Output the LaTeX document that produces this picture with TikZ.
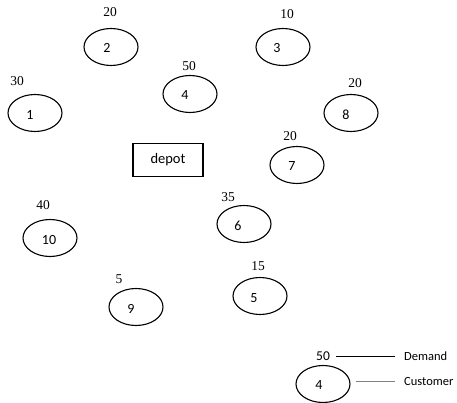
\documentclass[tikz,border=0pt]{standalone}
\usepackage{fontspec}
\setmainfont{Liberation Serif}
\newfontfamily\calfont{Carlito}
\usetikzlibrary{shapes.geometric}
\begin{document}
\begin{tikzpicture}[x=1pt,y=-1pt,
  cust/.style={ellipse,draw,line width=1.1pt,minimum width=54pt,minimum height=37pt,inner sep=0pt},
  num/.style={font=\calfont\fontsize{14}{14}\selectfont},
  dem/.style={font=\fontsize{13.5}{13.5}\selectfont,inner sep=0pt},
  leg/.style={font=\calfont\fontsize{12.5}{12.5}\selectfont,inner sep=0pt,anchor=west}]
\useasboundingbox (0,0) rectangle (457,403);
% customers
\node[cust] (c1) at (35,113) {};
\node[cust] (c2) at (111,47) {};
\node[cust] (c3) at (283,47) {};
\node[cust] (c4) at (190,94) {};
\node[cust] (c5) at (260,296) {};
\node[cust] (c6) at (244,224) {};
\node[cust] (c7) at (297,165) {};
\node[cust] (c8) at (351,113) {};
\node[cust] (c9) at (136,307) {};
\node[cust] (c10) at (50,238) {};
\node[num] (t1) at (30,115) {1};
\node[num] (t2) at (107,48) {2};
\node[num] (t3) at (277,48) {3};
\node[num] (t4) at (185,95) {4};
\node[num] (t5) at (254,298) {5};
\node[num] (t6) at (238,226) {6};
\node[num] (t7) at (292,166) {7};
\node[num] (t8) at (346,115) {8};
\node[num] (t9) at (131,309) {9};
\node[num] (t10) at (49,240) {10};
% demands
\node[dem] (d1) at (17,81) {30};
\node[dem] (d2) at (110,12) {20};
\node[dem] (d3) at (287,14) {10};
\node[dem] (d4) at (189,66) {50};
\node[dem] (d5) at (258,266) {15};
\node[dem] (d6) at (228,197) {35};
\node[dem] (d7) at (290,136) {20};
\node[dem] (d8) at (355,83) {20};
\node[dem] (d9) at (119,279) {5};
\node[dem] (d10) at (43,205) {40};
% depot
\node[draw,line width=1.1pt,minimum width=70pt,minimum height=33pt,inner sep=0pt,font=\calfont\fontsize{14.5}{14.5}\selectfont] (depot) at (168,160) {depot};
% legend
\node[cust] (lc) at (323,384) {};
\node[num] (lt) at (319,385) {4};
\node[dem,font=\calfont\fontsize{13.5}{13.5}\selectfont] (ld) at (323,356) {50};
\node[leg] (ldem) at (404,356) {Demand};
\node[leg] (lcus) at (404,381) {Customer};
\draw[line width=0.6pt] (ld.east) ++(6,0) coordinate (a1) -- (ldem.west -| 395,0) coordinate (a2);
\draw[line width=0.8pt,gray] (lc.east) ++(5,-3) coordinate (b1) -- (lcus.west -| 395,0) coordinate (b2);
\end{tikzpicture}
\end{document}
